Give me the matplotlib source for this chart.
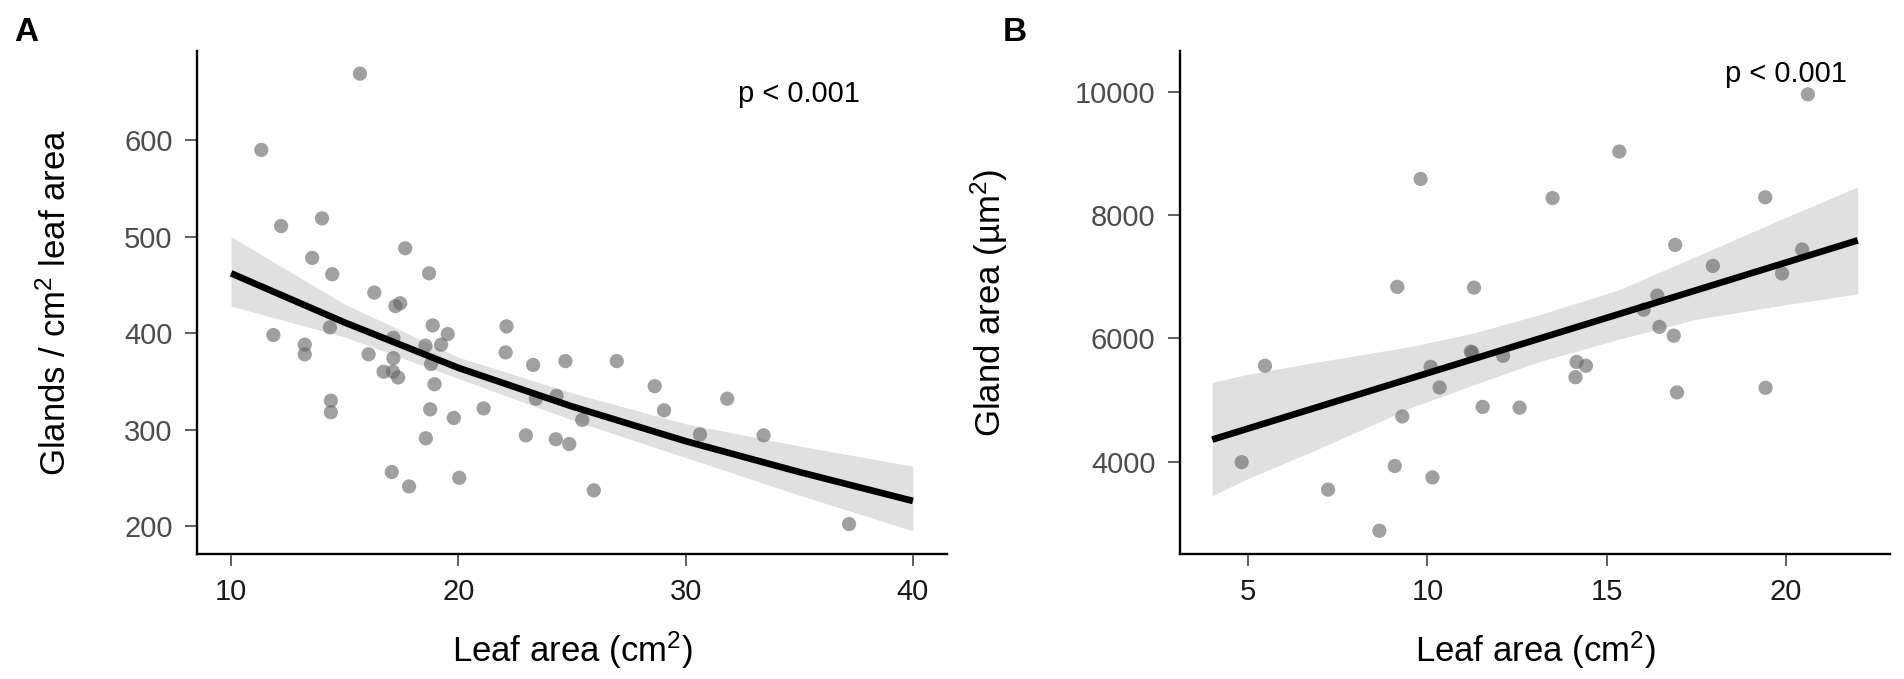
import numpy as np
import matplotlib
matplotlib.use("Agg")
import matplotlib.pyplot as plt

plt.rcParams['font.family'] = ['Liberation Sans', 'DejaVu Sans']
plt.rcParams['mathtext.fontset'] = 'custom'
plt.rcParams['mathtext.rm'] = 'Liberation Sans'
plt.rcParams['mathtext.it'] = 'Liberation Sans:italic'
plt.rcParams['mathtext.bf'] = 'Liberation Sans:bold'

# ---------------- Panel A data ----------------
leaf_area_A = [15.67, 11.33, 12.20, 14.00, 13.57, 14.45, 11.86, 13.24, 13.24, 14.35,
               14.39, 14.39, 16.30, 16.05, 17.66, 17.23, 17.44, 17.14, 17.14, 16.71,
               17.12, 17.35, 17.07, 17.83, 18.71, 18.87, 18.55, 18.80, 19.24, 19.53,
               18.95, 18.76, 18.57, 19.80, 20.04, 21.11, 22.12, 22.08, 23.29, 23.41,
               22.97, 24.71, 26.97, 24.32, 25.45, 24.29, 24.88, 25.96, 28.64, 29.05,
               31.83, 30.63, 33.43, 37.19]
glands_A = [669, 590, 511, 519, 478, 461, 398, 388, 378, 406,
            330, 318, 442, 378, 488, 428, 431, 395, 374, 360,
            360, 354, 256, 241, 462, 408, 387, 368, 388, 399,
            347, 321, 291, 312, 250, 322, 407, 380, 367, 332,
            294, 371, 371, 335, 310, 290, 285, 237, 345, 320,
            332, 295, 294, 202]

# fitted curve and confidence band
fit_x_A = [10, 15, 20, 25, 30, 35, 40]
fit_y_A = [462, 411, 364, 324, 288, 256, 226]
fit_lo_A = [428, 396, 353, 310, 271, 232, 195]
fit_hi_A = [500, 430, 375, 338, 306, 283, 262]

# ---------------- Panel B data ----------------
leaf_area_B = [9.81, 9.16, 11.30, 5.47, 10.09, 11.21, 11.25, 12.11, 10.34, 11.54,
               12.57, 9.30, 4.82, 9.09, 10.14, 7.23, 8.66, 13.49, 20.61, 15.35,
               19.42, 16.91, 17.96, 20.45, 19.89, 16.41, 16.03, 16.47, 16.87, 14.16,
               14.42, 14.13, 16.96, 19.43]
gland_area_B = [8585, 6836, 6824, 5557, 5539, 5786, 5770, 5718, 5205, 4890,
                4878, 4735, 3994, 3932, 3747, 3549, 2882, 8276, 9957, 9030,
                8288, 7516, 7176, 7442, 7053, 6694, 6466, 6187, 6045, 5619,
                5557, 5372, 5125, 5199]

# fitted line and confidence band
fit_x_B = [4, 22]
fit_y_B = [4360, 7590]
band_x_B = [4, 5, 6.8, 9.6, 11.3, 13.1, 15.3, 17.5, 19.7, 22]
band_hi_B = [5286, 5420, 5605, 5876, 6090, 6380, 6780, 7330, 7890, 8457]
band_lo_B = [3450, 3730, 4170, 4890, 5250, 5622, 5980, 6310, 6520, 6722]

p_text = "p < 0.001"

# ---------------- styling ----------------
W, H = 1904, 679
fig = plt.figure(figsize=(W / 100, H / 100), dpi=100)

pt_color = '#666666'
pt_alpha = 0.62
band_color = '#E0E0E0'
tick_size = 21
title_size = 25


def style_axes(ax):
    for s in ['top', 'right']:
        ax.spines[s].set_visible(False)
    for s in ['left', 'bottom']:
        ax.spines[s].set_linewidth(1.7)
        ax.spines[s].set_color('black')
    ax.tick_params(axis='both', direction='out', length=8.6, width=1.1,
                   color='#333333', labelsize=tick_size, pad=9)
    ax.tick_params(axis='y', labelcolor='#4D4D4D')
    ax.tick_params(axis='x', labelcolor='#1A1A1A')


# Panel A
axA = fig.add_axes([197 / W, 1 - 554 / H, (947 - 197) / W, (554 - 51) / H])
axA.fill_between(fit_x_A, fit_lo_A, fit_hi_A, color=band_color, lw=0, zorder=1)
axA.scatter(leaf_area_A, glands_A, s=105, color=pt_color, alpha=pt_alpha,
            edgecolors='none', zorder=2)
axA.plot(fit_x_A, fit_y_A, color='black', lw=4.8, zorder=3,
         solid_capstyle='butt')
axA.set_xlim(8.5, 41.5)
axA.set_ylim(171, 692.5)
axA.set_xticks([10, 20, 30, 40])
axA.set_yticks([200, 300, 400, 500, 600])
style_axes(axA)
axA.set_xlabel(r'Leaf area (cm$^2$)', fontsize=title_size)
axA.set_ylabel(r'Glands / cm$^2$ leaf area', fontsize=title_size)
axA.xaxis.set_label_coords(0.5, -0.15)
axA.yaxis.set_label_coords(-0.165, 0.5)
axA.text(35, 648, p_text, fontsize=tick_size, ha='center', va='center')

# Panel B
axB = fig.add_axes([1180 / W, 1 - 554 / H, (1890 - 1180) / W, (554 - 51) / H])
axB.fill_between(band_x_B, band_lo_B, band_hi_B, color=band_color, lw=0, zorder=1)
axB.scatter(leaf_area_B, gland_area_B, s=105, color=pt_color, alpha=pt_alpha,
            edgecolors='none', zorder=2)
axB.plot(fit_x_B, fit_y_B, color='black', lw=4.8, zorder=3, solid_capstyle='butt')
axB.set_xlim(3.1, 22.9)
axB.set_ylim(2505, 10660)
axB.set_xticks([5, 10, 15, 20])
axB.set_yticks([4000, 6000, 8000, 10000])
style_axes(axB)
axB.set_xlabel(r'Leaf area (cm$^2$)', fontsize=title_size)
axB.set_ylabel(r'Gland area (µm$^2$)', fontsize=title_size)
axB.xaxis.set_label_coords(0.5, -0.15)
axB.yaxis.set_label_coords(-0.239, 0.5)
axB.text(20, 10280, p_text, fontsize=tick_size, ha='center', va='center')

# panel letters
fig.text(14 / W, 1 - 17 / H, 'A', fontsize=24, fontweight='bold', ha='left', va='top')
fig.text(1003 / W, 1 - 17 / H, 'B', fontsize=24, fontweight='bold', ha='left', va='top')

fig.savefig('out.png', dpi=100, facecolor='white')
